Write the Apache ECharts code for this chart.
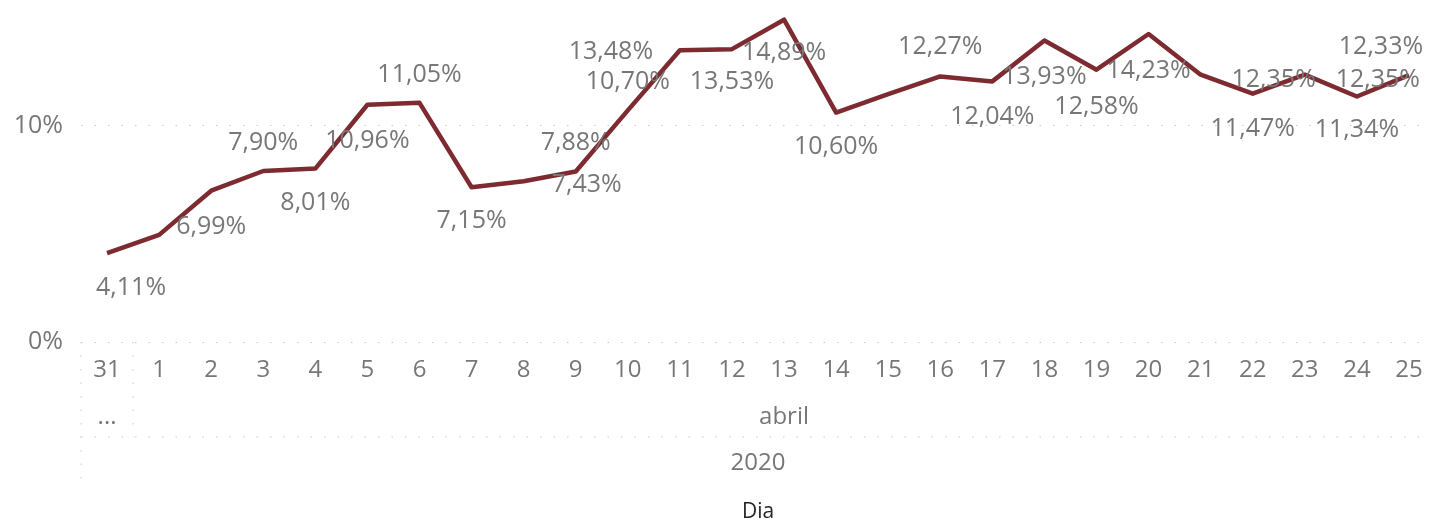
<!DOCTYPE html>
<html>
<head>
<meta charset="utf-8">
<script src="https://cdn.jsdelivr.net/npm/echarts@6/dist/echarts.min.js"></script>
<style>
html,body{margin:0;padding:0;background:#fff;}
#chart{width:1429px;height:520px;}
</style>
</head>
<body>
<div id="chart"></div>
<script>
// ---- data ----
const days = ['31','1','2','3','4','5','6','7','8','9','10','11','12','13','14','15','16','17','18','19','20','21','22','23','24','25'];
const values = [4.11, 4.95, 6.99, 7.90, 8.01, 10.96, 11.05, 7.15, 7.43, 7.88, 10.70, 13.48, 13.53, 14.89, 10.60, 11.45, 12.27, 12.04, 13.93, 12.58, 14.23, 12.35, 11.47, 12.35, 11.34, 12.33];
const monthNames = ['...', 'abril'];
const monthSpans = [1, 25];
const yearName = '2020';
const axisTitle = 'Dia';
const yTicks = [0, 10];

// ---- label placement (style only) ----
const labelOffsets = [
  [24,35], null, [0,36], [0,-28], [0,34], [0,36], [0,-28], [0,34], [63,4], [0,-29],
  [0,-29], [-69,2], [0,33], [0,33], [0,34], null, [0,-30], [0,35], [0,36], [0,37],
  [0,37], [73,5], [0,35], [73,5], [0,33], [-28,-28]
];

const FONT = '"Open Sans", "Noto Sans", sans-serif';
const GRAY = '#777777';

// month row axis data: label at the middle of each span
const monthAxis = [];
monthSpans.forEach((n, i) => {
  const start = monthAxis.length;
  for (let k = 0; k < n; k++) monthAxis.push('');
  monthAxis[start + Math.floor((n - 1) / 2)] = monthNames[i];
});

const fmt = v => v.toFixed(2).replace('.', ',') + '%';

const seriesData = values.map((v, i) => ({
  value: v,
  label: { show: !!labelOffsets[i] }
}));

const chart = echarts.init(document.getElementById('chart'), null, { renderer: 'canvas' });
chart.setOption({
  animation: false,
  backgroundColor: '#ffffff',
  grid: { left: 81, width: 1354, top: 0, height: 342, containLabel: false, outerBoundsMode: 'none' },
  xAxis: [
    {
      type: 'category',
      data: days,
      boundaryGap: true,
      axisLine: { show: false },
      axisTick: { show: false },
      splitLine: { show: false },
      axisLabel: { interval: 0, fontSize: 24, color: GRAY, fontFamily: FONT, margin: 16 },
      name: axisTitle,
      nameLocation: 'middle',
      nameGap: 160,
      nameTextStyle: { fontSize: 21, color: '#252423', fontFamily: FONT }
    },
    {
      type: 'category',
      data: monthAxis,
      position: 'bottom',
      boundaryGap: true,
      axisLine: { show: false },
      axisTick: { show: false },
      splitLine: { show: false },
      axisLabel: { interval: 0, fontSize: 24, color: GRAY, fontFamily: FONT, margin: 63 },
      name: yearName,
      nameLocation: 'middle',
      nameGap: 109,
      nameTextStyle: { fontSize: 24, color: GRAY, fontFamily: FONT }
    }
  ],
  yAxis: {
    type: 'value',
    min: 0,
    max: 15.8,
    interval: 10,
    axisLine: { show: false },
    axisTick: { show: false },
    axisLabel: {
      fontSize: 25, color: GRAY, fontFamily: FONT, margin: 18,
      showMaxLabel: false,
      formatter: v => (yTicks.indexOf(v) >= 0 ? v + '%' : '')
    },
    splitLine: { show: true, showMaxLine: false, lineStyle: { color: '#c8c8c8', width: 1, type: [1.5, 12] } }
  },
  series: [{
    type: 'line',
    xAxisIndex: 0,
    data: seriesData,
    showSymbol: true,
    symbol: 'circle',
    symbolSize: 0,
    lineStyle: { color: '#7d2a30', width: 4.5, join: 'round' },
    itemStyle: { color: '#7d2a30' },
    label: {
      show: true,
      position: 'inside',
      align: 'center',
      verticalAlign: 'middle',
      fontSize: 25,
      color: GRAY,
      fontFamily: FONT,
      formatter: p => fmt(p.value)
    },
    labelLayout: function (params) {
      const off = labelOffsets[params.dataIndex] || [0, 0];
      return { dx: off[0], dy: off[1], hideOverlap: false };
    }
  }]
});

// hierarchy separators
const x0 = chart.convertToPixel({ xAxisIndex: 0 }, 0);
const x1 = chart.convertToPixel({ xAxisIndex: 0 }, 1);
const bw = x1 - x0;
const y0 = chart.convertToPixel({ yAxisIndex: 0 }, 0);
const leftEdge = x0 - bw / 2;
const boundary = x0 + bw / 2;
const dotStyle = { stroke: '#c8c8c8', lineWidth: 1, lineDash: [1.5, 12] };
chart.setOption({
  graphic: [
    { type: 'line', shape: { x1: leftEdge, y1: y0, x2: leftEdge, y2: y0 + 143 }, style: dotStyle, silent: true },
    { type: 'line', shape: { x1: boundary, y1: y0, x2: boundary, y2: y0 + 95 }, style: dotStyle, silent: true },
    { type: 'line', shape: { x1: leftEdge, y1: y0 + 95, x2: 1429, y2: y0 + 95 }, style: dotStyle, silent: true }
  ]
});
</script>
</body>
</html>
